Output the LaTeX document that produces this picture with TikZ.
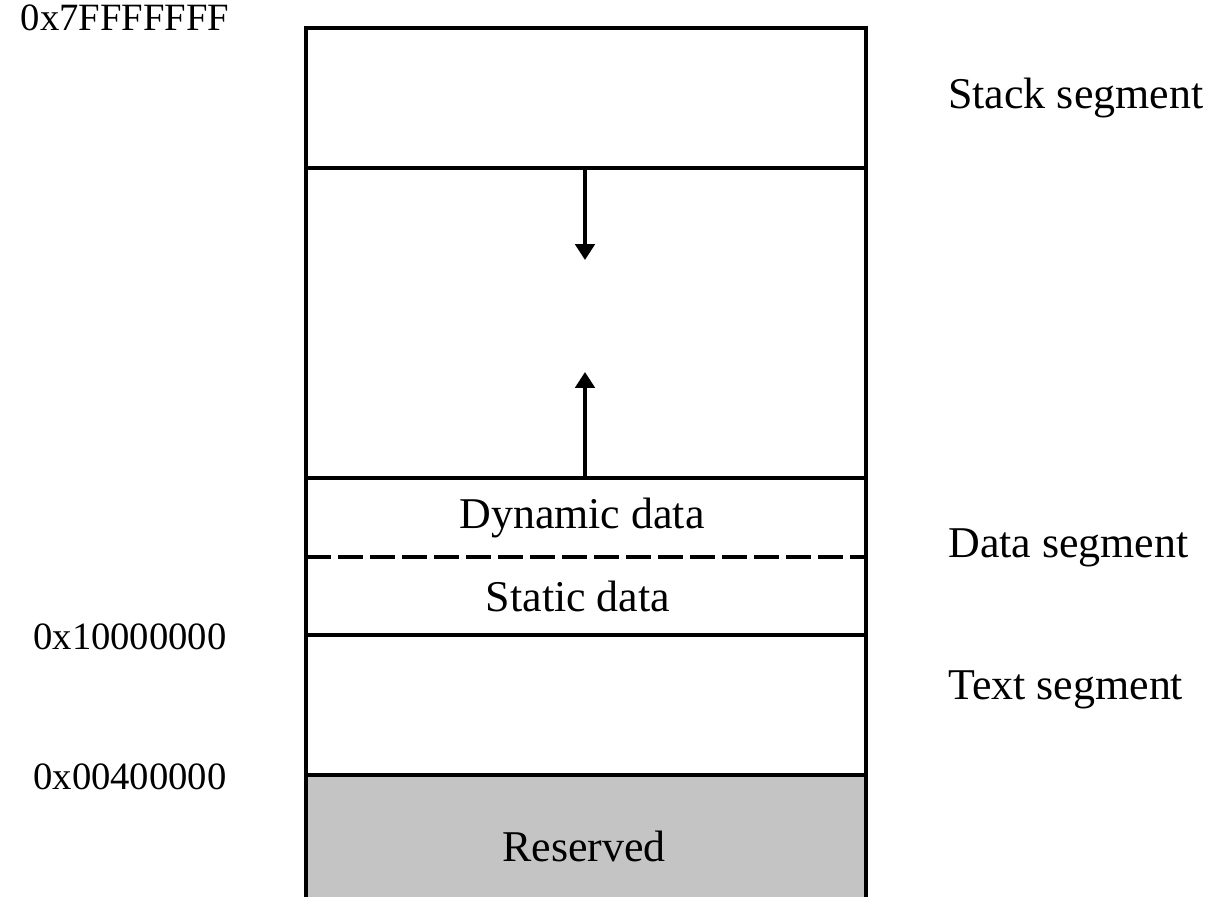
\documentclass[tikz,border=0pt]{standalone}
\usepackage{fontspec}
\setmainfont{Liberation Serif}
\usepackage{tikz}
\usetikzlibrary{arrows.meta}
\newcommand{\segline}[2]{\draw[segedge] (306,#1) -- (866,#1) node[coordinate] (#2) {};}
\tikzset{
  segedge/.style={line width=2pt},
  addr/.style={font=\fontsize{22}{24}\selectfont, inner sep=0pt},
  seglabel/.style={font=\fontsize{25}{27}\selectfont, inner sep=0pt},
  growarrow/.style={line width=2pt, -{Triangle[width=11pt,length=9pt]}}
}
\begin{document}
\begin{tikzpicture}[x=0.02cm, y=-0.02cm]
        \useasboundingbox (0,0) rectangle (1225,897);
        % reserved area
        \fill[black!23] (306,775) rectangle (866,897);
        % outer walls
        \draw[segedge] (306,897) -- (306,28) -- (866,28) -- (866,897);
        % boundaries
        \segline{168}{stacktop}
        \segline{478}{heaptop}
        \draw[segedge, dash pattern=on 0.5cm off 0.14cm] (306,557) -- (866,557);
        \segline{635}{datatop}
        \segline{775}{texttop}
        % growth arrows
        \coordinate (stackfrom) at (585,168);
        \coordinate (stackto) at (585,260);
        \coordinate (heapfrom) at (585,478);
        \coordinate (heapto) at (585,372);
        \draw[growarrow] (stackfrom) -- (stackto);
        \draw[growarrow] (heapfrom) -- (heapto);
        % texts in the box
        \node[seglabel] (dyn) at (582,518) {Dynamic data};
        \node[seglabel] (stat) at (578,596) {Static data};
        \node[seglabel] (res) at (584,846) {Reserved};
        % addresses
        \node[addr] (a7f) at (125,18) {0x7FFFFFFF};
        \node[addr] (a10) at (130,637) {0x10000000};
        \node[addr] (a04) at (130,777) {0x00400000};
        % segments
        \node[seglabel, anchor=west] (stack) at (948,98) {Stack segment};
        \node[seglabel, anchor=west] (data) at (948,548) {Data segment};
        \node[seglabel, anchor=west] (text) at (948,690) {Text segment};
    \end{tikzpicture}
\end{document}
